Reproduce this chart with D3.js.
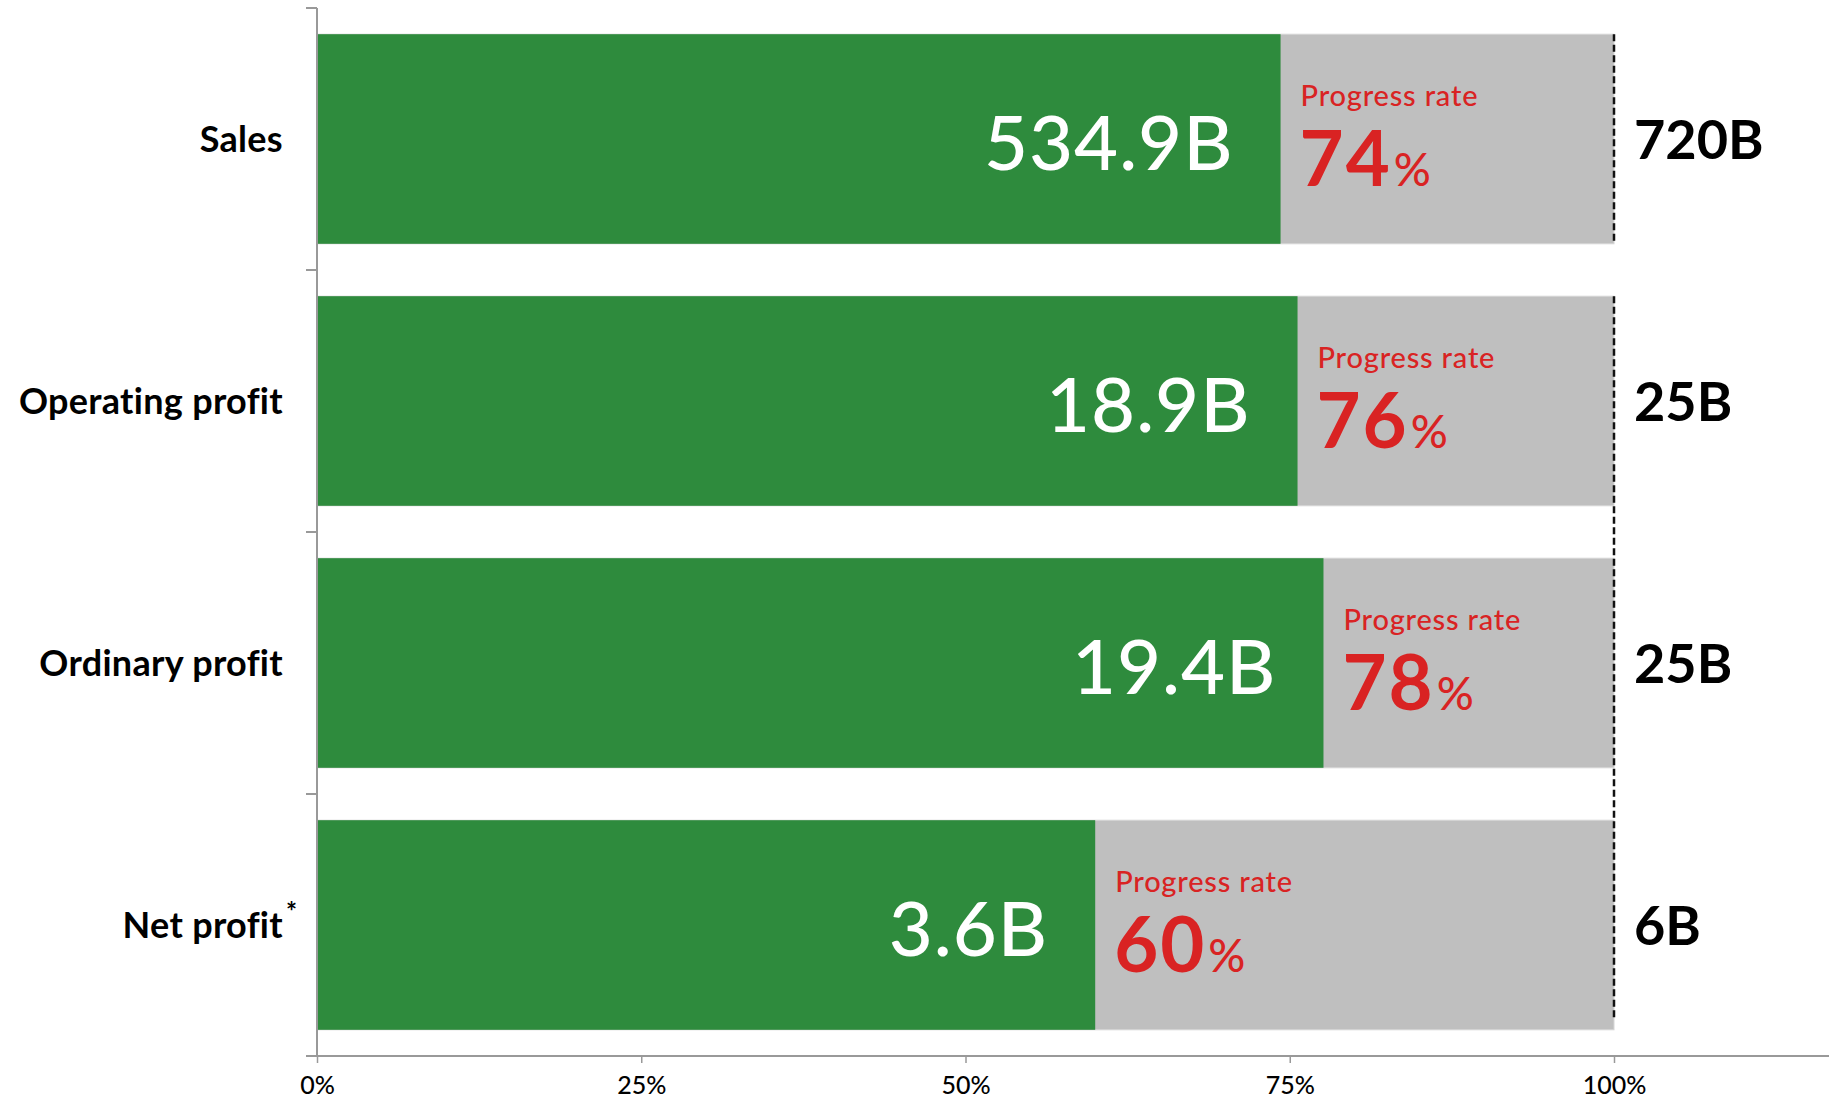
<!DOCTYPE html>
<html>
<head>
<meta charset="utf-8">
<script src="https://cdn.jsdelivr.net/npm/d3@7"></script>
<style>
  body { margin: 0; background: #fff; }
  svg { display: block; font-family: Lato, "Noto Sans", sans-serif; }
</style>
</head>
<body>
<svg class="progress-chart"></svg>
<script>
// Data
const categories = ["Sales", "Operating profit", "Ordinary profit", "Net profit"];
const actuals = [534.9, 18.9, 19.4, 3.6];   // billions
const targets = [720, 25, 25, 6];           // billions
const rates = [74, 76, 78, 60];             // progress rate, %
const xTicks = [0, 0.25, 0.5, 0.75, 1];

// Dimensions
const width = 1829;
const height = 1099;
const margin = { top: 8, left: 317, bottom: 43 };

const green = "#2e8b3d";
const grey = "#bfbfbf";
const red = "#d92323";
const axisColor = "#999";

const svg = d3.select(".progress-chart")
    .attr("width", width)
    .attr("height", height);

// Scales
const x = d3.scaleLinear()
    .domain([0, 1])
    .range([margin.left, 1614]);

const y = d3.scaleBand()
    .domain(categories)
    .range([margin.top, height - margin.bottom])
    .paddingInner(0.2)
    .paddingOuter(0.1);

const rows = categories.map((c, i) => ({
    cat: c, actual: actuals[i], target: targets[i], rate: rates[i], share: actuals[i] / targets[i]
}));

// Grey target bars (full 100%)
svg.selectAll(".target-bar")
    .data(rows)
    .join("rect")
    .attr("class", "target-bar")
    .attr("x", x(0))
    .attr("y", d => y(d.cat))
    .attr("width", x(1) - x(0))
    .attr("height", y.bandwidth())
    .attr("fill", grey)
    .attr("stroke", "#d6d6d6")
    .attr("stroke-width", 1);

// Green actual bars
svg.selectAll(".actual-bar")
    .data(rows)
    .join("rect")
    .attr("class", "actual-bar")
    .attr("x", x(0))
    .attr("y", d => y(d.cat))
    .attr("width", d => x(d.share) - x(0))
    .attr("height", y.bandwidth())
    .attr("fill", green);

// Dashed 100% line
const first = categories[0];
const last = categories[categories.length - 1];
const dashSegments = [
    [y(first), y(first) + y.bandwidth()],
    [y(categories[1]), y(last) + y.bandwidth() - 10]
];
svg.selectAll(".target-line")
    .data(dashSegments)
    .join("line")
    .attr("class", "target-line")
    .attr("x1", x(1)).attr("x2", x(1))
    .attr("y1", d => d[0]).attr("y2", d => d[1])
    .attr("stroke", "#111")
    .attr("stroke-width", 2.5)
    .attr("stroke-dasharray", "7,3.5");

// Y axis with ticks on band boundaries
const step = y.step();
const boundaries = categories.map(c => y(c) - step * y.paddingInner() / 2)
    .concat([y(last) + y.bandwidth() + step * y.paddingInner() / 2]);

svg.append("line")
    .attr("x1", x(0)).attr("x2", x(0))
    .attr("y1", boundaries[0]).attr("y2", boundaries[boundaries.length - 1])
    .attr("stroke", axisColor).attr("stroke-width", 2);

svg.selectAll(".y-tick")
    .data(boundaries)
    .join("line")
    .attr("class", "y-tick")
    .attr("x1", x(0) - 11).attr("x2", x(0))
    .attr("y1", d => d).attr("y2", d => d)
    .attr("stroke", axisColor).attr("stroke-width", 2);

// Category labels
svg.selectAll(".cat-label")
    .data(rows)
    .join("text")
    .attr("class", "cat-label")
    .attr("x", 283)
    .attr("y", d => y(d.cat) + y.bandwidth() / 2 + 13)
    .attr("text-anchor", "end")
    .attr("font-size", "36px")
    .attr("font-weight", 700)
    .attr("letter-spacing", "0.3px")
    .attr("fill", "#000")
    .text(d => d.cat);

// footnote mark on net profit
svg.append("text")
    .attr("x", 286)
    .attr("y", y(last) + y.bandwidth() / 2 - 4)
    .attr("font-size", "26px")
    .attr("font-weight", 700)
    .attr("fill", "#000")
    .text("*");

// X axis
const xAxisY = boundaries[boundaries.length - 1];
const xAxis = svg.append("g")
    .attr("transform", `translate(0, ${xAxisY})`)
    .call(d3.axisBottom(x)
        .tickValues(xTicks)
        .tickFormat(d3.format(".0%"))
        .tickSizeInner(7)
        .tickSizeOuter(0));

xAxis.select(".domain").remove();
xAxis.append("line")
    .attr("x1", x(0)).attr("x2", width)
    .attr("stroke", axisColor).attr("stroke-width", 2);
xAxis.selectAll(".tick line").attr("stroke", axisColor).attr("stroke-width", 1.5);
xAxis.selectAll(".tick text")
    .attr("font-family", "Lato, 'Noto Sans', sans-serif")
    .attr("font-size", "25px")
    .attr("font-weight", 500)
    .attr("fill", "#000")
    .attr("y", 20)
    .attr("dy", "0.71em");

// Actual value labels inside green bars
svg.selectAll(".value-label")
    .data(rows)
    .join("text")
    .attr("class", "value-label")
    .attr("x", d => x(d.share) - 47)
    .attr("y", d => y(d.cat) + y.bandwidth() / 2 + 31)
    .attr("text-anchor", "end")
    .attr("font-size", "76px")
    .attr("font-weight", 500)
    .attr("letter-spacing", "1px")
    .attr("fill", "#fff")
    .text(d => `${d.actual}B`);

// Progress rate labels
svg.selectAll(".rate-title")
    .data(rows)
    .join("text")
    .attr("class", "rate-title")
    .attr("x", d => x(d.share) + 20)
    .attr("y", d => y(d.cat) + y.bandwidth() / 2 - 33)
    .attr("font-size", "29px")
    .attr("font-weight", 500)
    .attr("letter-spacing", "0.8px")
    .attr("fill", red)
    .text("Progress rate");

const rateText = svg.selectAll(".rate-value")
    .data(rows)
    .join("text")
    .attr("class", "rate-value")
    .attr("x", d => x(d.share) + 19)
    .attr("y", d => y(d.cat) + y.bandwidth() / 2 + 47)
    .attr("font-weight", 700)
    .attr("fill", red);

rateText.append("tspan")
    .attr("font-size", "76px")
    .attr("letter-spacing", "2px")
    .text(d => d.rate);
rateText.append("tspan")
    .attr("font-size", "46px")
    .attr("font-weight", 500)
    .attr("dx", 2)
    .text("%");

// Target labels
svg.selectAll(".target-label")
    .data(rows)
    .join("text")
    .attr("class", "target-label")
    .attr("x", x(1) + 20)
    .attr("y", d => y(d.cat) + y.bandwidth() / 2 + 20)
    .attr("font-size", "54px")
    .attr("font-weight", 700)
    .attr("fill", "#000")
    .text(d => `${d.target}B`);
</script>
</body>
</html>
